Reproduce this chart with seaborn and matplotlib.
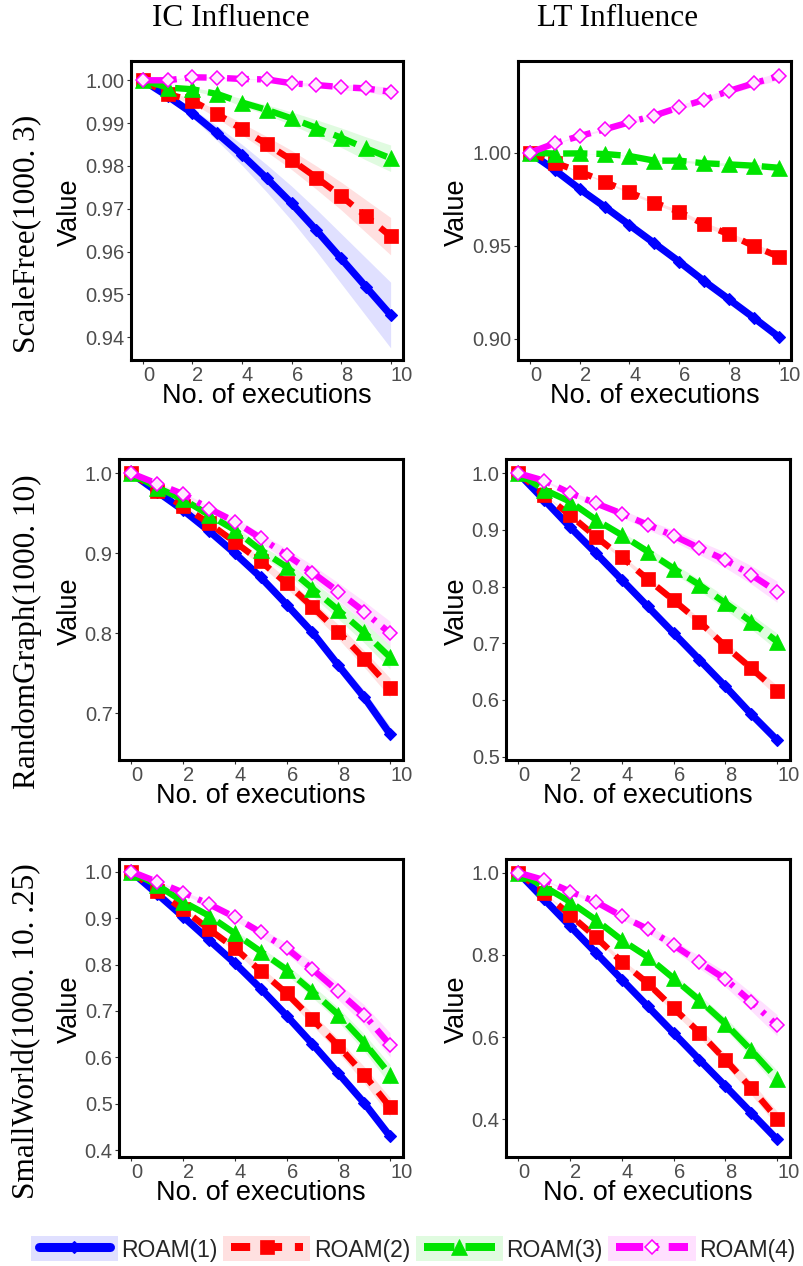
import numpy as np
import pandas as pd
import matplotlib
matplotlib.use("Agg")
import matplotlib.pyplot as plt
import seaborn as sns
from matplotlib.patches import Patch
from matplotlib.lines import Line2D
from matplotlib.legend_handler import HandlerTuple, HandlerLine2D

# ---------------- data ----------------
executions = list(range(11))
series_names = ["ROAM(1)", "ROAM(2)", "ROAM(3)", "ROAM(4)"]
col_titles = ["IC Influence", "LT Influence"]
row_titles = ["ScaleFree(1000. 3)", "RandomGraph(1000. 10)", "SmallWorld(1000. 10. .25)"]
xtick_vals = [0, 2, 4, 6, 8, 10]

# ScaleFree, IC
sf_ic_1 = [1.000, 0.9963, 0.9923, 0.9876, 0.9826, 0.9771, 0.9713, 0.9650, 0.9584, 0.9518, 0.9452]
sf_ic_2 = [1.000, 0.9968, 0.9952, 0.9921, 0.9886, 0.9851, 0.9814, 0.9773, 0.9730, 0.9683, 0.9636]
sf_ic_3 = [1.000, 0.9983, 0.9979, 0.9968, 0.9948, 0.9931, 0.9911, 0.9889, 0.9866, 0.9841, 0.9818]
sf_ic_4 = [1.000, 1.0000, 1.0007, 1.0006, 1.0003, 1.0002, 0.9993, 0.9989, 0.9984, 0.9981, 0.9973]
# ScaleFree, LT
sf_lt_1 = [1.000, 0.9907, 0.9805, 0.9710, 0.9612, 0.9514, 0.9415, 0.9311, 0.9213, 0.9114, 0.9012]
sf_lt_2 = [1.000, 0.9946, 0.9898, 0.9844, 0.9787, 0.9732, 0.9683, 0.9616, 0.9562, 0.9499, 0.9442]
sf_lt_3 = [1.000, 0.9995, 0.9996, 0.9993, 0.9982, 0.9957, 0.9957, 0.9943, 0.9937, 0.9930, 0.9919]
sf_lt_4 = [1.000, 1.0050, 1.0089, 1.0125, 1.0163, 1.0199, 1.0243, 1.0283, 1.0331, 1.0372, 1.0411]
# RandomGraph, IC
rg_ic_1 = [1.000, 0.977, 0.954, 0.928, 0.900, 0.870, 0.836, 0.801, 0.760, 0.720, 0.674]
rg_ic_2 = [1.000, 0.978, 0.959, 0.9375, 0.914, 0.890, 0.8625, 0.833, 0.802, 0.768, 0.732]
rg_ic_3 = [1.000, 0.982, 0.9675, 0.948, 0.929, 0.904, 0.883, 0.856, 0.829, 0.801, 0.770]
rg_ic_4 = [1.000, 0.987, 0.974, 0.956, 0.9396, 0.919, 0.898, 0.876, 0.852, 0.827, 0.800]
# RandomGraph, LT
rg_lt_1 = [1.000, 0.953, 0.905, 0.859, 0.812, 0.765, 0.718, 0.671, 0.624, 0.575, 0.529]
rg_lt_2 = [1.000, 0.962, 0.926, 0.888, 0.852, 0.813, 0.776, 0.738, 0.695, 0.656, 0.616]
rg_lt_3 = [1.000, 0.971, 0.950, 0.918, 0.891, 0.862, 0.832, 0.803, 0.771, 0.738, 0.703]
rg_lt_4 = [1.000, 0.987, 0.965, 0.947, 0.929, 0.909, 0.890, 0.868, 0.847, 0.821, 0.791]
# SmallWorld, IC
sw_ic_1 = [1.000, 0.952, 0.903, 0.853, 0.803, 0.748, 0.690, 0.629, 0.566, 0.502, 0.430]
sw_ic_2 = [1.000, 0.958, 0.919, 0.876, 0.835, 0.786, 0.738, 0.682, 0.625, 0.563, 0.493]
sw_ic_3 = [1.000, 0.971, 0.935, 0.905, 0.867, 0.828, 0.789, 0.742, 0.692, 0.632, 0.563]
sw_ic_4 = [1.000, 0.978, 0.955, 0.930, 0.902, 0.869, 0.835, 0.790, 0.742, 0.692, 0.627]
# SmallWorld, LT
sw_lt_1 = [1.000, 0.935, 0.870, 0.805, 0.740, 0.675, 0.610, 0.545, 0.481, 0.416, 0.351]
sw_lt_2 = [1.000, 0.950, 0.897, 0.843, 0.783, 0.731, 0.670, 0.611, 0.545, 0.476, 0.402]
sw_lt_3 = [1.000, 0.966, 0.929, 0.885, 0.836, 0.795, 0.743, 0.690, 0.633, 0.568, 0.499]
sw_lt_4 = [1.000, 0.982, 0.954, 0.929, 0.894, 0.863, 0.824, 0.782, 0.741, 0.686, 0.629]

# relative width of the shaded band (fraction of the drop from 1.0)
band_sf_ic = [0.14, 0.12, 0.17, 0.40]
band_sf_lt = [0.015, 0.03, 0.12, 0.05]
band_rg_ic = [0.03, 0.045, 0.065, 0.075]
band_rg_lt = [0.01, 0.025, 0.05, 0.09]
band_sw_ic = [0.02, 0.04, 0.05, 0.07]
band_sw_lt = [0.01, 0.03, 0.04, 0.07]

# y ticks
yt_sf_ic = [0.94, 0.95, 0.96, 0.97, 0.98, 0.99, 1.00]
yt_sf_lt = [0.90, 0.95, 1.00]
yt_rg_ic = [0.7, 0.8, 0.9, 1.0]
yt_rg_lt = [0.5, 0.6, 0.7, 0.8, 0.9, 1.0]
yt_sw_ic = [0.4, 0.5, 0.6, 0.7, 0.8, 0.9, 1.0]
yt_sw_lt = [0.4, 0.6, 0.8, 1.0]

panels = [
    dict(series=[sf_ic_1, sf_ic_2, sf_ic_3, sf_ic_4], band=band_sf_ic, yt=yt_sf_ic, fmt="%.2f",
         ylim=(0.9347, 1.0045), box=(131, 61, 403, 360), ylab_x=70),
    dict(series=[sf_lt_1, sf_lt_2, sf_lt_3, sf_lt_4], band=band_sf_lt, yt=yt_sf_lt, fmt="%.2f",
         ylim=(0.8887, 1.0492), box=(518, 61, 791, 360), ylab_x=457),
    dict(series=[rg_ic_1, rg_ic_2, rg_ic_3, rg_ic_4], band=band_rg_ic, yt=yt_rg_ic, fmt="%.1f",
         ylim=(0.6416, 1.0179), box=(119, 459, 403, 760), ylab_x=70),
    dict(series=[rg_lt_1, rg_lt_2, rg_lt_3, rg_lt_4], band=band_rg_lt, yt=yt_rg_lt, fmt="%.1f",
         ylim=(0.494, 1.0253), box=(506, 459, 790, 760), ylab_x=457),
    dict(series=[sw_ic_1, sw_ic_2, sw_ic_3, sw_ic_4], band=band_sw_ic, yt=yt_sw_ic, fmt="%.1f",
         ylim=(0.3857, 1.0272), box=(119, 859, 403, 1157), ylab_x=70),
    dict(series=[sw_lt_1, sw_lt_2, sw_lt_3, sw_lt_4], band=band_sw_lt, yt=yt_sw_lt, fmt="%.1f",
         ylim=(0.3084, 1.0333), box=(506, 859, 790, 1157), ylab_x=457),
]

# ---------------- styles ----------------
colors = ["#0000FF", "#FF0000", "#00E400", "#FF00FF"]
styles = [
    dict(linestyle="-", linewidth=5.2, marker="D", markersize=6.2,
         markerfacecolor="#0000FF", markeredgecolor="#0000FF", markeredgewidth=0.8),
    dict(linestyle=(0, (2.4, 1.6)), linewidth=4.6, marker="s", markersize=9.5,
         markerfacecolor="#FF0000", markeredgecolor="#FF0000", markeredgewidth=0.5),
    dict(linestyle=(0, (3.8, 1.4)), linewidth=4.6, marker="^", markersize=11.5,
         markerfacecolor="#00E400", markeredgecolor="#00E400", markeredgewidth=0.5),
    dict(linestyle=(0, (3.4, 1.3, 0.6, 1.3)), linewidth=4.6, marker="D", markersize=7.6,
         markerfacecolor="#FFEAFF", markeredgecolor="#FF00FF", markeredgewidth=1.1),
]
band_alpha = 0.12

sns.set_theme(style="white")
plt.rcParams["font.family"] = ["Liberation Sans", "DejaVu Sans"]

W, H = 804, 1266
fig = plt.figure(figsize=(W / 100, H / 100), dpi=100)
fig.patch.set_facecolor("white")


def rect(x0, y0, x1, y1):
    return [x0 / W, 1 - y1 / H, (x1 - x0) / W, (y1 - y0) / H]


for p in panels:
    x0, y0, x1, y1 = p["box"]
    ax = fig.add_axes(rect(x0, y0, x1, y1))
    ax.set_facecolor("white")
    xs = np.array(executions, dtype=float)
    for k, (vals, c, st) in enumerate(zip(p["series"], colors, styles)):
        v = np.array(vals)
        w = p["band"][k] * np.abs(1.0 - v)
        ax.fill_between(xs, v - w, v + w, color=c, alpha=band_alpha, lw=0, zorder=1)
    for k, (vals, c, st) in enumerate(zip(p["series"], colors, styles)):
        df = pd.DataFrame({"x": executions, "y": vals})
        sns.lineplot(data=df, x="x", y="y", ax=ax, color=c, errorbar=None,
                     legend=False, zorder=2 + k, **st)
    ax.set_xlim(-0.48, 10.5)
    ax.set_ylim(*p["ylim"])
    ax.set_xticks(xtick_vals)
    ax.set_xticklabels([str(t) for t in xtick_vals])
    for lbl in ax.get_xticklabels():
        lbl.set_horizontalalignment("left")
    ax.set_yticks(p["yt"])
    ax.set_yticklabels([p["fmt"] % t for t in p["yt"]])
    ax.tick_params(axis="both", which="major", bottom=True, left=True, direction="out",
                   length=3, width=0.8, color="#333333", labelsize=14.5,
                   labelcolor="#4D4D4D", pad=1.5)
    for sp in ax.spines.values():
        sp.set_visible(True)
        sp.set_color("black")
        sp.set_linewidth(2.2)
    ax.set_xlabel("No. of executions", fontsize=19.5, color="black", va="center")
    ax.xaxis.set_label_coords(0.5, -36 / (y1 - y0))
    ax.set_ylabel("Value", fontsize=19.5, color="black", ha="center", va="center")
    ax.yaxis.set_label_coords((p["ylab_x"] - x0) / (x1 - x0), 0.5 - 1.5 / (y1 - y0))
    ax.grid(False)

serif = ["Liberation Serif", "DejaVu Serif"]
fig.text(231 / W, 1 - 18 / H, col_titles[0], ha="center", va="center",
         fontsize=22.5, family=serif, color="black")
fig.text(618 / W, 1 - 18 / H, col_titles[1], ha="center", va="center",
         fontsize=22.5, family=serif, color="black")
for ty, t in zip([234, 632, 1031], row_titles):
    fig.text(27 / W, 1 - ty / H, t, ha="center", va="center", rotation=90,
             fontsize=22.5, family=serif, color="black")


# legend: shaded box with an inset line + marker
class InsetLine(HandlerLine2D):
    def create_artists(self, legend, orig_handle, xdescent, ydescent, width, height,
                       fontsize, trans):
        m = 0.09 * width
        return super().create_artists(legend, orig_handle, xdescent - m, ydescent,
                                      width - 2 * m, height, fontsize, trans)


handles = []
for c, st in zip(colors, styles):
    patch = Patch(facecolor=c, alpha=band_alpha, edgecolor="none")
    lst = dict(st)
    lst["linewidth"] = st["linewidth"] * 1.25
    if c == "#FF00FF":
        lst["markerfacecolor"] = "white"
    line = Line2D([], [], color=c, **lst)
    handles.append((patch, line))
fig.legend(handles, series_names, loc="center", bbox_to_anchor=(413 / W, 1 - 1249 / H),
           ncol=4, frameon=False, fontsize=16.5, handlelength=3.8, handleheight=1.3,
           handletextpad=0.15, columnspacing=0.25, numpoints=1, borderpad=0,
           handler_map={tuple: HandlerTuple(ndivide=1, pad=0),
                        Line2D: InsetLine(numpoints=1)})

fig.savefig("out.png", dpi=100, facecolor="white")
